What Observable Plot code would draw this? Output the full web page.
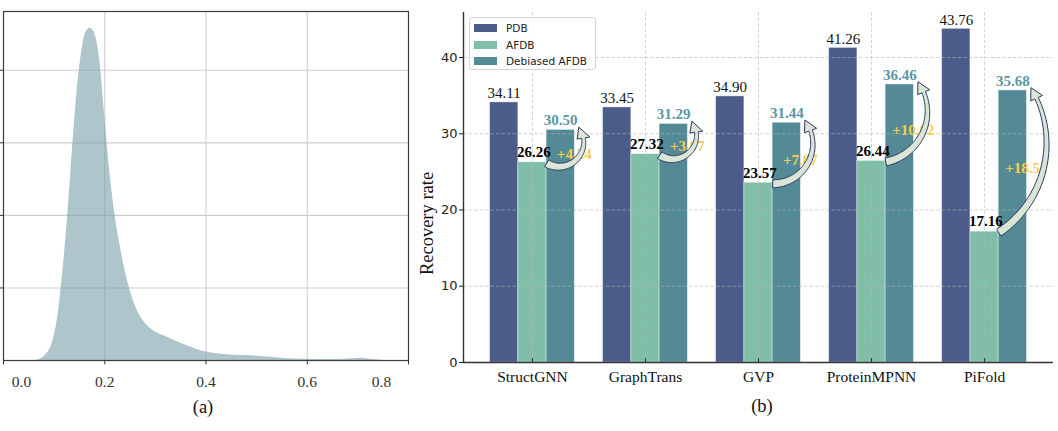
<!DOCTYPE html>
<html><head><meta charset="utf-8">
<script src="https://cdn.jsdelivr.net/npm/d3@7"></script>
<script src="https://cdn.jsdelivr.net/npm/@observablehq/plot@0.6"></script>
<style>
body{margin:0;background:#fff;}
#wrap{position:relative;width:1058px;height:431px;overflow:hidden;font-family:"Liberation Serif",serif;}
.panel{position:absolute;top:0;}
.cap{position:absolute;font-size:18.5px;transform:translateX(-50%);color:#111;line-height:1;}
#legend{position:absolute;left:469px;top:17px;width:127px;height:53px;border:1px solid #d4d4d4;border-radius:3px;background:rgba(255,255,255,0.88);font-family:"DejaVu Sans",sans-serif;font-size:10.5px;color:#222;box-sizing:border-box;}
#legend .row{position:absolute;left:0;height:12px;display:flex;align-items:center;}
#legend .sw{display:inline-block;width:23px;height:8px;margin-left:4px;margin-right:9px;}
</style></head><body>
<div id="wrap">
  <div id="pa" class="panel" style="left:0"></div>
  <div id="pb" class="panel" style="left:410px"></div>
  <div class="cap" style="left:203px;top:398px">(a)</div>
  <div class="cap" style="left:762px;top:397px">(b)</div>
  <div id="legend"></div>
</div>
<script>
// ---------- Panel (a): density of values ----------
const densityX = [0.040,0.065,0.085,0.098,0.108,0.114,0.124,0.131,0.137,0.145,0.154,0.162,0.171,0.180,0.190,0.199,0.209,0.219,0.232,0.245,0.261,0.278,0.294,0.320,0.353,0.392,0.425,0.490,0.556,0.621,0.673,0.706,0.725,0.745,0.770];
const densityY = [0.000,0.005,0.090,0.280,0.640,1.010,1.750,2.390,2.990,3.680,4.230,4.510,4.580,4.510,4.140,3.450,2.670,2.070,1.520,1.100,0.740,0.530,0.420,0.330,0.230,0.130,0.090,0.064,0.028,0.014,0.018,0.032,0.018,0.004,0.000];
const xTicksA = [0.0,0.2,0.4,0.6,0.8];
const yTicksA = [1,2,3,4];

// ---------- Panel (b): recovery rates ----------
const categories = ["StructGNN","GraphTrans","GVP","ProteinMPNN","PiFold"];
const series = ["PDB","AFDB","Debiased AFDB"];
const pdb = [34.11,33.45,34.90,41.26,43.76];
const afdb = [26.26,27.32,23.57,26.44,17.16];
const debiased = [30.50,31.29,31.44,36.46,35.68];
const yTicksB = [10,20,30,40];
const colors = ["#4b5b8a","#80bea7","#548a96"];

const serif = "Liberation Serif";

// Panel (a)
const densityRows = densityX.map((x,k)=>({x, y: densityY[k]}));
const pa = Plot.plot({
  width: 415, height: 395,
  marginLeft: 3, marginRight: 7, marginTop: 11, marginBottom: 35,
  style: {background:"transparent", fontFamily: serif},
  x: {domain:[0,0.8], axis:null},
  y: {domain:[0,4.81], axis:null},
  marks: [
    Plot.ruleX(xTicksA.slice(1,4), {x:d=>d, stroke:"#cfcfcf", strokeWidth:1.1}),
    Plot.ruleY(yTicksA, {y:d=>d, stroke:"#cfcfcf", strokeWidth:1.1}),
    Plot.areaY(densityRows, {x:"x", y:"y", curve:"monotone-x", fill:"#769ea8", fillOpacity:0.6}),
    Plot.ruleY(yTicksA, {y:d=>d, x1:-0.006, x2:0, stroke:"#333"}),
    Plot.ruleX(xTicksA, {x:d=>d, y1:0, y2:-0.06, stroke:"#333"}),
    Plot.frame({stroke:"#3a3a3a", strokeWidth:1.2}),
    Plot.text(xTicksA.slice(1,4), {x:d=>d, y:0, dy:22, text:d=>d.toFixed(1), fontFamily:serif, fontSize:15.5, fill:"#333"}),
    Plot.text([xTicksA[0]], {x:d=>d, y:0, dy:22, dx:18, text:d=>d.toFixed(1), fontFamily:serif, fontSize:15.5, fill:"#333"}),
    Plot.text([xTicksA[4]], {x:d=>d, y:0, dy:22, dx:-27, text:d=>d.toFixed(1), fontFamily:serif, fontSize:15.5, fill:"#333"})
  ]
});
document.getElementById("pa").appendChild(pa);

// Panel (b)
const values = [pdb, afdb, debiased];
const rows = categories.flatMap((c,i)=>series.map((s,j)=>({cat:c, i, s, j, v: values[j][i]})));
const idx = categories.map((c,i)=>i);
const xDomB = [-0.61, categories.length - 1 + 0.61];
const gainRows = idx.map(i=>({i, a: afdb[i], d: debiased[i], g: debiased[i]-afdb[i]}));

// curved "fancy" arrows from the AFDB bar to the debiased bar, drawn through the plot's scales
function fancyArrows(index, scales) {
  const {x, y} = scales;
  const g = d3.create("svg:g");
  for (const r of gainRows) {
    const x1 = x(r.i + 0.13), y1 = y(r.a - 0.2);
    const x2 = x(r.i + 0.415), y2 = y(r.d + 0.3);
    const dx = x2 - x1, dy = y2 - y1, c = Math.hypot(dx, dy);
    const px = -dy/c, py = dx/c; // bulge to the right of travel
    const s = 15 + 0.1*c;        // sagitta
    const R = (c*c/4 + s*s)/(2*s);
    const mx = (x1+x2)/2, my = (y1+y2)/2;
    const cx = mx - (R - s)*px, cy = my - (R - s)*py;
    const th1 = Math.atan2(y1-cy, x1-cx), thb = Math.atan2(py, px);
    let dth = thb - th1; while (dth > Math.PI) dth -= 2*Math.PI; while (dth < -Math.PI) dth += 2*Math.PI;
    const total = 2*dth;
    const L = Math.abs(total)*R, headLen = 12, hw = 6.5, w0 = 8, w1 = 3.6;
    const tb = 1 - headLen/L;
    const N = 60, left = [], right = [];
    for (let k=0;k<=N;k++){
      const t = tb*k/N, th = th1 + total*t;
      const nx = Math.cos(th), ny = Math.sin(th);
      const X = cx + R*nx, Y = cy + R*ny;
      const w = (w0 + (w1-w0)*(k/N))/2;
      left.push([X+nx*w, Y+ny*w]); right.push([X-nx*w, Y-ny*w]);
    }
    const thB = th1 + total*tb, bnx = Math.cos(thB), bny = Math.sin(thB);
    const bx = cx + R*bnx, by = cy + R*bny;
    const poly = [...left, [bx+bnx*hw, by+bny*hw], [x2, y2], [bx-bnx*hw, by-bny*hw], ...right.reverse()];
    g.append("path").attr("d","M"+poly.map(p=>p[0].toFixed(2)+","+p[1].toFixed(2)).join("L")+"Z")
      .attr("fill","#dbe5d6").attr("stroke","#2b3960").attr("stroke-width",1).attr("stroke-linejoin","round");
  }
  return g.node();
}

const pb = Plot.plot({
  width: 648, height: 395,
  marginLeft: 53, marginRight: 5, marginTop: 12, marginBottom: 33,
  style: {background:"transparent", fontFamily:"DejaVu Sans", fontSize:"13px", color:"#222"},
  x: {domain: xDomB, axis: null},
  y: {domain: [0,45.9], ticks: 5, tickSize: 4, tickPadding: 2, label: null},
  color: {domain: series, range: colors},
  marks: [
    Plot.rect(rows, {x1:d=>d.i+(d.j-1.5)*0.25, x2:d=>d.i+(d.j-0.5)*0.25, y1:0, y2:"v", fill:"s", stroke:"#ffffff", strokeOpacity:0.5, strokeWidth:0.8}),
    Plot.ruleY(yTicksB, {y:d=>d, stroke:"#b5b5b5", strokeDasharray:"3.5,2", strokeWidth:0.8, strokeOpacity:0.75}),
    Plot.ruleX(idx, {x:d=>d, stroke:"#b5b5b5", strokeDasharray:"3.5,2", strokeWidth:0.8, strokeOpacity:0.75}),
    Plot.ruleY([0], {stroke:"#333", strokeWidth:1.4}),
    Plot.ruleX([xDomB[0]], {stroke:"#333", strokeWidth:1.4}),
    Plot.ruleX(idx, {x:d=>d, y1:0, y2:0.5, stroke:"#333", strokeWidth:1}),
    Plot.text(idx, {x:d=>d, y:0, dy:15, text:i=>categories[i], fontFamily:serif, fontSize:15.5, fill:"#111"}),
    Plot.text(rows.filter(d=>d.j===0), {x:d=>d.i-0.25, y:"v", dy:-9, text:d=>d.v.toFixed(2), fontFamily:serif, fontSize:15, fill:"#111"}),
    Plot.text(rows.filter(d=>d.j===1), {x:d=>d.i+0.012, y:"v", dy:-10, text:d=>d.v.toFixed(2), fontFamily:serif, fontSize:15, fontWeight:"bold", fill:"#000"}),
    Plot.text(rows.filter(d=>d.j===2), {x:d=>d.i+0.25, y:"v", dy:-9.5, text:d=>d.v.toFixed(2), fontFamily:serif, fontSize:15, fontWeight:"bold", fill:"#5b97a4"}),
    Plot.text(gainRows, {x:d=>d.i+0.37, y:d=>(d.a+d.d)/2-1, text:d=>"+"+d.g.toFixed(2), fontFamily:serif, fontSize:15, fontWeight:"bold", fill:"#f6cd52"}),
    fancyArrows,
    Plot.text(["Recovery rate"], {frameAnchor:"left", textAnchor:"middle", rotate:-90, dx:-36, dy:36, fontFamily:serif, fontSize:18.5, fill:"#111"})
  ]
});
document.getElementById("pb").appendChild(pb);

// Legend
const leg = document.getElementById("legend");
const rowTops = [4, 21, 37];
series.forEach((s,j)=>{
  const r = document.createElement("div");
  r.className="row"; r.style.top = rowTops[j]+"px";
  const sw = document.createElement("span"); sw.className="sw"; sw.style.background = colors[j];
  const t = document.createElement("span"); t.textContent = s;
  r.appendChild(sw); r.appendChild(t); leg.appendChild(r);
});
</script>
</body></html>
